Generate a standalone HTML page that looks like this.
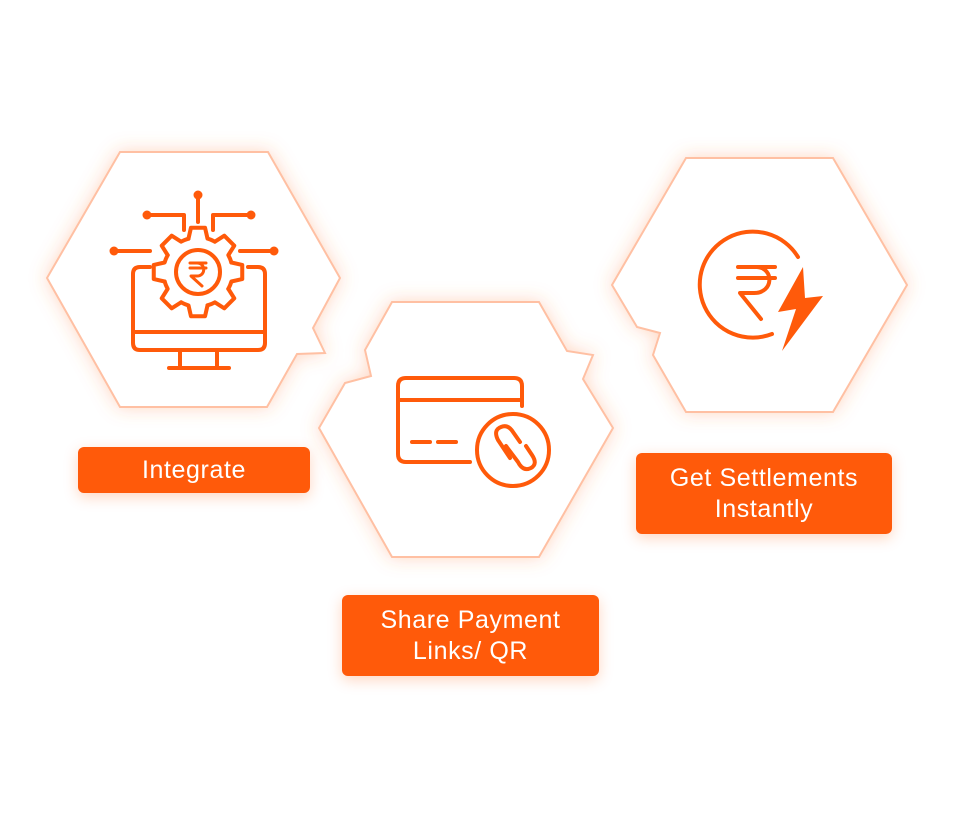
<!DOCTYPE html>
<html><head><meta charset="utf-8"><style>
html,body{margin:0;padding:0;background:#fff;}
body{width:953px;height:826px;position:relative;overflow:hidden;font-family:"Liberation Sans",sans-serif;}
svg{position:absolute;left:0;top:0;}
.lab{position:absolute;background:#ff5a0a;color:#fff;border-radius:6px;text-align:center;font-size:25px;letter-spacing:0.6px;box-shadow:0 4px 14px rgba(255,90,10,0.25);display:flex;align-items:center;justify-content:center;line-height:31px;}
</style></head><body>
<svg width="953" height="826" viewBox="0 0 953 826">
<defs>
<filter id="g" x="-20%" y="-20%" width="140%" height="140%">
<feDropShadow dx="0" dy="0" stdDeviation="9" flood-color="#ff7a3a" flood-opacity="0.3"/>
</filter>
</defs>
<g fill="#fff" stroke="#ffc0a3" stroke-width="2" stroke-linejoin="miter" filter="url(#g)">
<polygon points="120,152 268,152 340,278 313,328 325,353 297,354 267,407 120,407 47,278"/>
<polygon points="392,302 539,302 567,351 593,355 583,379 613,428 539,557 392,557 319,428 345,383 371,376 365,350"/>
<polygon points="686,158 833,158 907,285 833,412 686,412 653,355 660,333 637,327 612,285"/>
</g>
<g fill="none" stroke="#ff5a0a" stroke-width="4" stroke-linecap="round" stroke-linejoin="round">
<!-- icon 1 -->
<path d="M150,267 H140 Q133,267 133,274 V343 Q133,350 140,350 H258 Q265,350 265,343 V274 Q265,267 258,267 H248"/>
<line x1="133" y1="332" x2="265" y2="332"/>
<line x1="180" y1="350" x2="180" y2="368"/>
<line x1="217" y1="350" x2="217" y2="368"/>
<line x1="169" y1="368" x2="229" y2="368"/>
<g transform="translate(198,272)">
<g transform="scale(1.12)" stroke-width="3.6">
<path d="M29.8,-8.5 L39.5,-6.3 L39.5,6.3 L29.8,8.5 A31,31 0 0 1 27.1,15.0" transform="rotate(0)"/>
<path d="M29.8,-8.5 L39.5,-6.3 L39.5,6.3 L29.8,8.5 A31,31 0 0 1 27.1,15.0" transform="rotate(45)"/>
<path d="M29.8,-8.5 L39.5,-6.3 L39.5,6.3 L29.8,8.5 A31,31 0 0 1 27.1,15.0" transform="rotate(90)"/>
<path d="M29.8,-8.5 L39.5,-6.3 L39.5,6.3 L29.8,8.5 A31,31 0 0 1 27.1,15.0" transform="rotate(135)"/>
<path d="M29.8,-8.5 L39.5,-6.3 L39.5,6.3 L29.8,8.5 A31,31 0 0 1 27.1,15.0" transform="rotate(180)"/>
<path d="M29.8,-8.5 L39.5,-6.3 L39.5,6.3 L29.8,8.5 A31,31 0 0 1 27.1,15.0" transform="rotate(225)"/>
<path d="M29.8,-8.5 L39.5,-6.3 L39.5,6.3 L29.8,8.5 A31,31 0 0 1 27.1,15.0" transform="rotate(270)"/>
<path d="M29.8,-8.5 L39.5,-6.3 L39.5,6.3 L29.8,8.5 A31,31 0 0 1 27.1,15.0" transform="rotate(315)"/>
</g>
<circle r="22" />
<path d="M-8,-9 H8 M-8,-4 H8 M-1,-9 C8,-9 8,4 -1,4 H-7 L4,14" stroke-width="3"/>
</g>
<line x1="198" y1="195" x2="198" y2="222"/>
<path d="M147,215 H184 V230"/>
<path d="M251,215 H213 V230"/>
<line x1="114" y1="251" x2="150" y2="251"/>
<line x1="240" y1="251" x2="274" y2="251"/>
<!-- icon 2 -->
<path d="M470,462 H406 Q398,462 398,454 V386 Q398,378 406,378 H514 Q522,378 522,386 V406"/>
<line x1="398" y1="400" x2="522" y2="400"/>
<line x1="412" y1="442" x2="430" y2="442"/>
<line x1="438" y1="442" x2="456" y2="442"/>
<circle cx="513" cy="450" r="36"/>
<path d="M510,458 L498,440 Q493,430 501,427 Q508,424 513,432 L520,442" stroke-width="4"/>
<path d="M506,446 L518,462 Q523,472 531,468 Q538,464 532,455 L526,446" stroke-width="4"/>
<!-- icon 3 -->
<path d="M798,257 A53,53 0 1 0 772,334"/>
<path d="M738,267 H775 M738,278 H775 M757,267 C774,268 774,293 754,293 H740 L761,319"/>
</g>
<circle cx="198" cy="195" r="4.5" fill="#ff5a0a"/>
<circle cx="147" cy="215" r="4.5" fill="#ff5a0a"/>
<circle cx="251" cy="215" r="4.5" fill="#ff5a0a"/>
<circle cx="114" cy="251" r="4.5" fill="#ff5a0a"/>
<circle cx="274" cy="251" r="4.5" fill="#ff5a0a"/>
<polygon points="803,267 778,312 796,309 782,351 823,296 805,298" fill="#ff5a0a"/>
</svg>
<div class="lab" style="left:78px;top:447px;width:232px;height:46px;">Integrate</div>
<div class="lab" style="left:636px;top:453px;width:256px;height:81px;">Get Settlements<br>Instantly</div>
<div class="lab" style="left:342px;top:595px;width:257px;height:81px;">Share Payment<br>Links/ QR</div>
</body></html>
